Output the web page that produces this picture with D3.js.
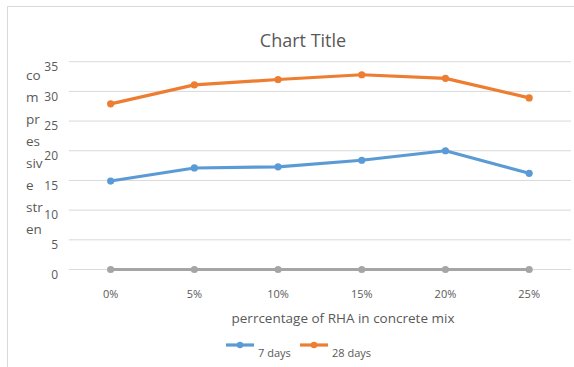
<!DOCTYPE html>
<html><head><meta charset="utf-8">
<script src="https://cdn.jsdelivr.net/npm/d3@7"></script>
<style>body{margin:0;background:#fff}svg{display:block}text{font-family:"Open Sans","Noto Sans",sans-serif;fill:#595959}</style>
</head><body><svg id="c" width="574" height="367"></svg>
<script>
const categories = ["0%","5%","10%","15%","20%","25%"];
const days7 = [14.9,17.1,17.3,18.4,20.0,16.2];
const days28 = [27.9,31.1,32.0,32.8,32.2,28.9];
const zeroSeries = [0,0,0,0,0,0];
const yTicks = [0,5,10,15,20,25,30,35];
const yTitleLines = ["co","m","pr","es","siv","e","str","en"];
const chartTitle = "Chart Title";
const xTitle = "perrcentage of RHA in concrete mix";
const legendNames = ["7 days","28 days"];
const colors = {d7:"#5b9bd5", d28:"#ed7d31", zero:"#a5a5a5"};

const svg = d3.select("#c");
svg.append("rect").attr("x",7.5).attr("y",6.5).attr("width",580).attr("height",380)
  .attr("fill","#fff").attr("stroke","#d9d9d9");

const x = d3.scaleBand().domain(categories).range([68.8,571]);
const y = d3.scaleLinear().domain([0,35]).range([269.5,61.7]);

svg.append("g").selectAll("line").data(yTicks).join("line")
  .attr("x1",68.8).attr("x2",571).attr("y1",d=>y(d)).attr("y2",d=>y(d))
  .attr("stroke","#d9d9d9").attr("stroke-width",1);

const ya = svg.append("g").attr("transform","translate(60,5)")
  .call(d3.axisLeft(y).tickValues(yTicks).tickSize(0).tickPadding(2));
ya.select(".domain").remove();
ya.selectAll("text").attr("font-size",12).attr("fill","#595959").style("font-family","'Open Sans',sans-serif");

const xa = svg.append("g").attr("transform","translate(0,288)")
  .call(d3.axisBottom(x).tickSize(0).tickPadding(2));
xa.select(".domain").remove();
xa.selectAll("text").attr("font-size",11).attr("fill","#595959").style("font-family","'Open Sans',sans-serif");

const line = d3.line().x((d,i)=>x(categories[i])+x.bandwidth()/2).y(d=>y(d));
const series = [[zeroSeries,colors.zero],[days7,colors.d7],[days28,colors.d28]];
series.forEach(([vals,col])=>{
  svg.append("path").datum(vals).attr("d",line).attr("fill","none")
    .attr("stroke",col).attr("stroke-width",3.2).attr("stroke-linejoin","round").attr("stroke-linecap","round");
  svg.append("g").selectAll("circle").data(vals).join("circle")
    .attr("cx",(d,i)=>x(categories[i])+x.bandwidth()/2).attr("cy",d=>y(d)).attr("r",3.6).attr("fill",col);
});

svg.append("text").attr("x",303).attr("y",47).attr("text-anchor","middle").attr("font-size",18).text(chartTitle);
svg.append("g").selectAll("text").data(yTitleLines).join("text")
  .attr("x",26).attr("y",(d,i)=>79.5+i*22.1).attr("font-size",13.5).text(d=>d);
svg.append("text").attr("x",343).attr("y",322.5).attr("text-anchor","middle").attr("font-size",13.5).text(xTitle);

const leg = [[legendNames[0],colors.d7,226],[legendNames[1],colors.d28,300]];
leg.forEach(([name,col,lx])=>{
  svg.append("line").attr("x1",lx).attr("x2",lx+28).attr("y1",345).attr("y2",345).attr("stroke",col).attr("stroke-width",3.2);
  svg.append("circle").attr("cx",lx+14).attr("cy",345).attr("r",3.2).attr("fill",col);
  svg.append("text").attr("x",lx+32).attr("y",357).attr("font-size",11).text(name);
});
</script></body></html>
